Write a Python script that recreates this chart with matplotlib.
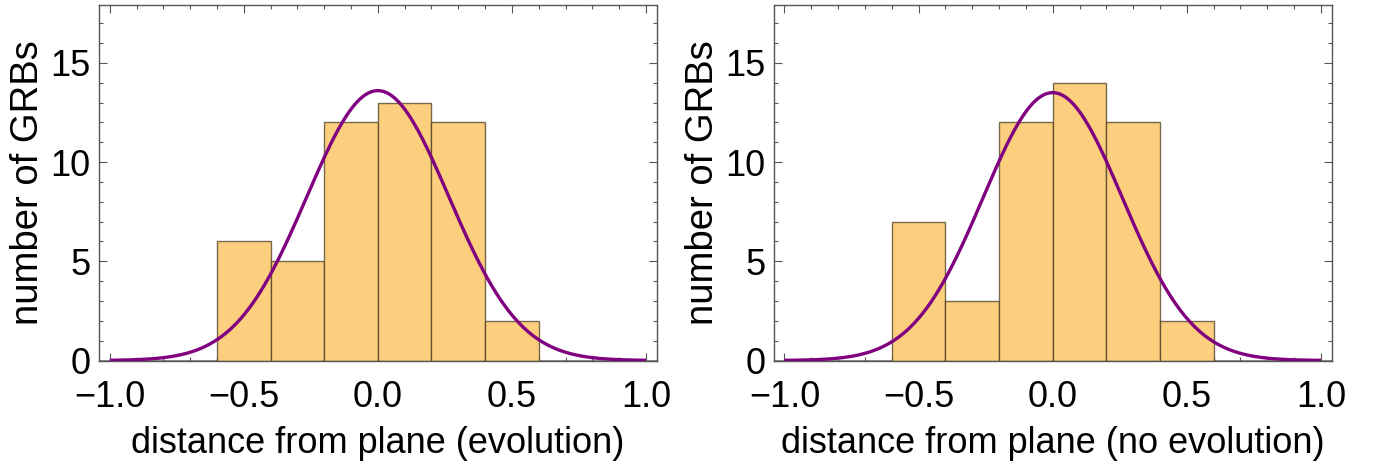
import numpy as np
import matplotlib
matplotlib.use("Agg")
import matplotlib.pyplot as plt
from matplotlib.ticker import MultipleLocator

plt.rcParams['font.family'] = ['Liberation Sans', 'DejaVu Sans']

# Histogram data (bin edges shared by both panels)
bin_edges = [-0.6, -0.4, -0.2, 0.0, 0.2, 0.4, 0.6]
counts_evolution = [6, 5, 12, 13, 12, 2]
counts_no_evolution = [7, 3, 12, 14, 12, 2]

# Gaussian fit parameters: amplitude, mean, sigma
fit_evolution = (13.6, 0.0, 0.265)
fit_no_evolution = (13.5, 0.0, 0.26)

xlabels = ["distance from plane (evolution)", "distance from plane (no evolution)"]
ylabel = "number of GRBs"
xticks = [-1.0, -0.5, 0.0, 0.5, 1.0]
xticklabels = ["\u22121.0", "\u22120.5", "0.0", "0.5", "1.0"]
yticks = [0, 5, 10, 15]

bar_color = "#FCCF7E"
edge_color = (0.25, 0.2, 0.1, 0.7)
curve_color = "#800080"
frame_color = "#555555"
FS = 26

fig = plt.figure(figsize=(13.77, 4.68), dpi=100)
positions = [
    [99 / 1377, 1 - 360.5 / 468, (656.7 - 99) / 1377, (360.5 - 5.3) / 468],
    [773.7 / 1377, 1 - 360.5 / 468, (1331.7 - 773.7) / 1377, (360.5 - 5.3) / 468],
]

for pos, counts, fit, xl in zip(positions,
                                [counts_evolution, counts_no_evolution],
                                [fit_evolution, fit_no_evolution],
                                xlabels):
    ax = fig.add_axes(pos)
    edges = np.array(bin_edges)
    ax.bar(edges[:-1], counts, width=np.diff(edges), align='edge',
           color=bar_color, edgecolor=edge_color, linewidth=1.0, zorder=2)
    amp, mu, sig = fit
    xs = np.linspace(-1, 1, 400)
    ax.plot(xs, amp * np.exp(-(xs - mu) ** 2 / (2 * sig ** 2)),
            color=curve_color, lw=2.4, zorder=3, solid_capstyle='butt')
    ax.axhline(0, color='#888888', lw=2.0, zorder=1)
    ax.set_xlim(-1.04, 1.04)
    ax.set_ylim(0, 17.9)
    ax.set_xticks(xticks)
    ax.set_xticklabels(xticklabels)
    ax.set_yticks(yticks)
    ax.xaxis.set_minor_locator(MultipleLocator(0.1))
    ax.yaxis.set_minor_locator(MultipleLocator(1))
    ax.tick_params(which='both', direction='in', top=True, right=True,
                   color=frame_color, labelsize=FS, width=0.8)
    ax.tick_params(which='major', length=6)
    ax.tick_params(which='minor', length=3)
    ax.tick_params(axis='x', pad=14)
    ax.tick_params(axis='y', pad=6)
    for s in ax.spines.values():
        s.set_color(frame_color)
        s.set_linewidth(1.0)
    ax.set_xlabel(xl, fontsize=FS, labelpad=8)
    ax.set_ylabel(ylabel, fontsize=27.5, labelpad=3)

fig.savefig("out.png", dpi=100)
